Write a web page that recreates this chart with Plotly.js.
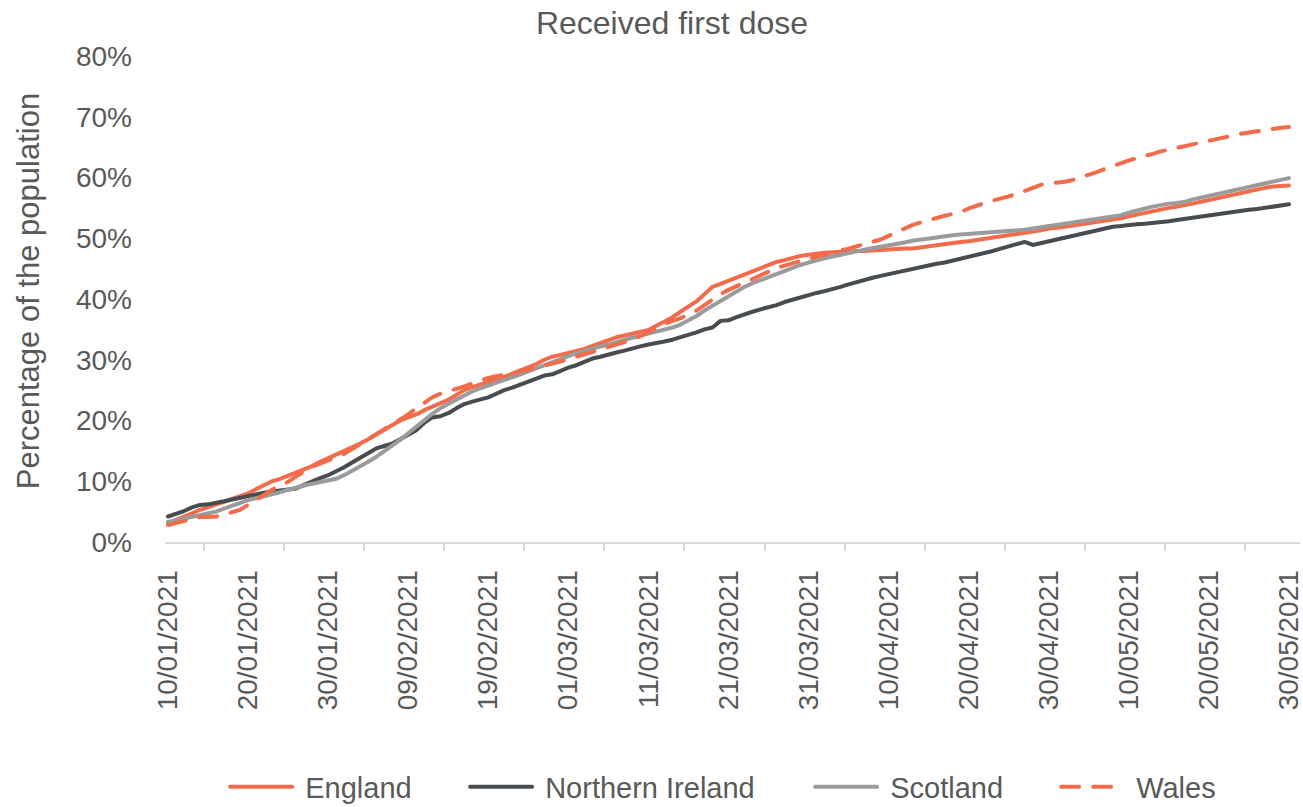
<!DOCTYPE html>
<html>
<head>
<meta charset="utf-8">
<script src="https://cdn.plot.ly/plotly-3.0.1.min.js"></script>
<style>
html,body{margin:0;padding:0;background:#fff;}
#chart{width:1303px;height:807px;}
#chart path.js-line{stroke-linecap:round;stroke-linejoin:round;}
</style>
</head>
<body>
<div id="chart"></div>
<script>
// Daily series, first value on 10/01/2021 (percentage of the population, first dose)
const startDate = '2021-01-10';
const seriesNames = ['England', 'Northern Ireland', 'Scotland', 'Wales'];

const england = [3.1,3.6,4.1,4.7,5.3,5.7,6.1,6.6,7.1,7.5,8.0,8.7,9.4,10.0,10.4,10.9,11.4,11.9,12.5,13.2,
13.8,14.3,14.9,15.5,16.2,16.9,17.7,18.4,19.2,20.0,20.5,21.0,21.7,22.3,22.8,23.4,24.2,25.0,25.5,25.9,
26.3,26.7,27.2,27.7,28.2,28.7,29.3,30.0,30.5,30.8,31.1,31.4,31.8,32.3,32.8,33.3,33.7,34.0,34.3,34.6,
34.9,35.6,36.3,37.0,37.9,38.8,39.6,40.8,42.0,42.5,43.0,43.5,44.0,44.5,45.0,45.6,46.1,46.4,46.8,47.1,
47.3,47.5,47.6,47.7,47.8,47.8,47.9,47.9,48.0,48.0,48.1,48.2,48.3,48.3,48.5,48.7,48.9,49.1,49.2,49.4,
49.5,49.7,49.8,50.0,50.2,50.4,50.6,50.9,51.1,51.3,51.6,51.7,51.9,52.1,52.3,52.5,52.6,52.8,53.0,53.3,
53.6,53.9,54.2,54.5,54.7,55.0,55.2,55.4,55.7,56.0,56.3,56.6,56.9,57.2,57.5,57.8,58.1,58.3,58.5,58.6,58.7];

const northernIreland = [4.2,4.6,5.1,5.7,6.1,6.2,6.4,6.7,7.0,7.3,7.6,7.8,8.1,8.3,8.5,8.7,8.8,9.4,10.0,10.5,
11.0,11.6,12.3,13.1,13.9,14.7,15.4,15.8,16.2,16.9,17.6,18.4,19.6,20.5,20.7,21.2,22.0,22.7,23.1,23.5,
23.8,24.4,25.0,25.4,25.9,26.5,27.0,27.4,27.6,28.2,28.7,29.1,29.7,30.2,30.5,30.9,31.2,31.5,31.9,32.2,
32.5,32.7,33.0,33.3,33.7,34.0,34.5,35.0,35.3,36.4,36.5,37.0,37.5,37.9,38.3,38.6,39.0,39.5,39.9,40.3,
40.7,41.0,41.3,41.6,42.0,42.4,42.8,43.2,43.5,43.8,44.1,44.4,44.7,45.0,45.3,45.5,45.8,46.0,46.3,46.6,
46.9,47.2,47.5,47.9,48.3,48.7,49.0,49.4,48.9,49.2,49.5,49.7,50.0,50.4,50.7,51.0,51.3,51.6,51.9,52.0,
52.2,52.3,52.4,52.5,52.6,52.8,53.0,53.2,53.4,53.6,53.7,53.9,54.1,54.3,54.5,54.7,54.8,55.0,55.2,55.4,55.6];

const scotland = [3.3,3.6,3.9,4.1,4.4,4.7,5.0,5.5,6.0,6.4,6.9,7.2,7.5,7.8,8.2,8.6,9.0,9.3,9.6,9.9,
10.1,10.4,11.0,11.7,12.4,13.2,14.0,14.9,15.8,16.8,17.9,19.0,20.1,21.1,22.0,22.7,23.5,24.2,24.8,25.3,
25.8,26.3,26.7,27.1,27.6,28.1,28.6,29.2,29.7,30.2,30.7,31.1,31.5,31.8,32.1,32.5,32.9,33.3,33.7,34.0,
34.3,34.6,34.9,35.3,35.8,36.5,37.2,38.1,38.9,39.7,40.5,41.3,42.0,42.6,43.1,43.7,44.2,44.7,45.1,45.6,
46.0,46.4,46.7,47.0,47.3,47.6,47.9,48.2,48.4,48.6,48.8,49.1,49.3,49.6,49.8,50.0,50.2,50.4,50.5,50.6,
50.7,50.8,50.8,50.9,51.0,51.1,51.3,51.4,51.6,51.8,52.0,52.2,52.4,52.6,52.8,52.9,53.1,53.3,53.5,53.8,
54.2,54.6,54.9,55.2,55.5,55.7,55.8,56.0,56.4,56.7,57.0,57.3,57.6,57.9,58.2,58.4,58.7,59.0,59.3,59.6,59.9];

const wales = [2.8,3.1,3.5,3.8,4.1,4.1,4.2,4.5,4.9,5.3,6.1,7.0,7.8,8.6,9.3,9.9,10.8,11.6,12.4,12.9,
13.4,13.9,14.5,15.3,16.1,16.9,17.7,18.5,19.3,20.2,21.0,22.0,23.0,23.8,24.4,24.8,25.1,25.6,26.1,26.6,
27.0,27.3,27.5,27.8,28.1,28.4,28.7,29.1,29.4,29.7,30.1,30.5,30.9,31.3,31.7,32.1,32.5,32.9,33.3,33.9,
34.6,35.3,35.9,36.4,36.8,37.5,38.1,39.0,40.0,40.8,41.5,42.1,42.7,43.3,43.9,44.5,45.1,45.5,45.9,46.3,
46.6,47.0,47.3,47.7,48.0,48.3,48.7,49.0,49.4,49.8,50.4,51.0,51.6,52.2,52.6,53.0,53.3,53.7,54.0,54.3,
54.9,55.4,55.8,56.2,56.5,56.9,57.3,57.8,58.3,58.8,59.0,59.1,59.3,59.6,60.0,60.4,60.9,61.4,61.9,62.4,
62.8,63.2,63.5,63.9,64.3,64.6,64.9,65.2,65.5,65.8,66.1,66.4,66.7,66.9,67.2,67.4,67.6,67.9,68.0,68.2,68.3];

const yTickValues = [0, 10, 20, 30, 40, 50, 60, 70, 80];
const yTickLabels = ['0%', '10%', '20%', '30%', '40%', '50%', '60%', '70%', '80%'];

// build the daily date categories
function buildDates(start, n) {
  const out = [];
  const d0 = new Date(start + 'T00:00:00Z');
  for (let i = 0; i < n; i++) {
    const d = new Date(d0.getTime() + i * 86400000);
    out.push(d.toISOString().slice(0, 10));
  }
  return out;
}
const dates = buildDates(startDate, england.length);

const orange = '#F26B4A';
const dark = '#474C50';
const grey = '#9B9B9B';
const textColor = '#595959';
const font = 'Liberation Sans, Arial, sans-serif';
const nb = '\u00A0'; // small gap between legend line and its label

const legendIds = ['legend', 'legend2', 'legend3', 'legend4'];
const traces = [
  {x: dates, y: england, name: nb + seriesNames[0], type: 'scatter', mode: 'lines', legend: legendIds[0],
   line: {color: orange, width: 4}},
  {x: dates, y: northernIreland, name: nb + seriesNames[1], type: 'scatter', mode: 'lines', legend: legendIds[1],
   line: {color: dark, width: 4}},
  {x: dates, y: scotland, name: nb + seriesNames[2], type: 'scatter', mode: 'lines', legend: legendIds[2],
   line: {color: grey, width: 4}},
  {x: dates, y: wales, name: nb + seriesNames[3], type: 'scatter', mode: 'lines', legend: legendIds[3],
   line: {color: orange, width: 4, dash: '18px,14px'}}
];

function legendAt(xp) {
  return {orientation: 'h', x: xp, xanchor: 'left', y: -0.504, yanchor: 'middle',
          itemwidth: 62, bgcolor: 'rgba(0,0,0,0)',
          font: {size: 29, color: textColor, family: font}};
}

const layout = {
  width: 1303, height: 807,
  margin: {l: 165, r: 3, t: 56, b: 265, autoexpand: false},
  paper_bgcolor: '#ffffff', plot_bgcolor: '#ffffff',
  font: {family: font, color: textColor, size: 28},
  title: {text: 'Received first dose', x: 0.5157, xref: 'container', xanchor: 'center',
          y: 0.9715, yref: 'container', yanchor: 'middle', automargin: false,
          font: {size: 32, color: textColor, family: font}},
  xaxis: {
    type: 'date', automargin: false,
    range: ['2021-01-09 15:00', '2021-05-31 09:00'],
    tick0: '2021-01-10', dtick: 10 * 86400000,
    tickformat: '%d/%m/%Y', tickangle: -90,
    ticks: '', ticklabelstandoff: 15, ticklabeloverflow: 'allow',
    minor: {ticks: 'outside', tick0: '2021-01-14 12:00', dtick: 10 * 86400000,
            ticklen: 7, tickwidth: 2, tickcolor: '#D9D9D9', showgrid: false},
    showline: true, linecolor: '#D9D9D9', linewidth: 2,
    showgrid: false, zeroline: false,
    tickfont: {size: 28, color: textColor, family: font}
  },
  yaxis: {
    range: [0, 80], automargin: false,
    tickvals: yTickValues, ticktext: yTickLabels,
    ticks: '', ticklabelstandoff: 32,
    showline: false, showgrid: false, zeroline: false,
    tickfont: {size: 28, color: textColor, family: font}
  },
  showlegend: true,
  legend: legendAt(0.0530),
  legend2: legendAt(0.2644),
  legend3: legendAt(0.5684),
  legend4: legendAt(0.7851),
  annotations: [{
    text: 'Percentage of the population', textangle: -90,
    xref: 'paper', yref: 'paper', x: -0.1207, y: 0.516,
    xanchor: 'center', yanchor: 'middle', showarrow: false,
    font: {size: 31, color: textColor, family: font}
  }]
};

Plotly.newPlot('chart', traces, layout, {displayModeBar: false, staticPlot: true});
</script>
</body>
</html>
